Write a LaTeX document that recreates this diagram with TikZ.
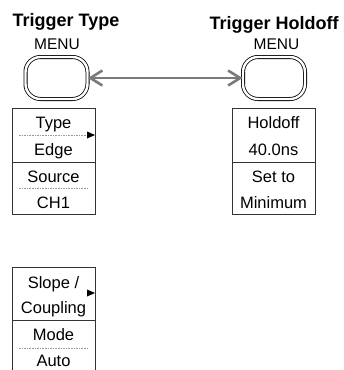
\documentclass[tikz,border=0pt]{standalone}
\usepackage{fontspec}
\setmainfont{Liberation Sans}
\usetikzlibrary{arrows.meta}
\tikzset{
  menubtn/.style={draw=black, double, double distance=2.4pt, line width=0.8pt, rectangle, rounded corners=15pt, minimum width=62pt, minimum height=42pt, inner sep=0pt},
  menutxt/.style={anchor=base, inner sep=0pt, font=\fontsize{16.5}{20}\selectfont},
  titletxt/.style={anchor=base, inner sep=0pt, font=\fontsize{18}{22}\selectfont\bfseries},
  keytxt/.style={anchor=base, inner sep=0pt, font=\fontsize{15.5}{18}\selectfont},
  softline/.style={black!40, dash pattern=on 1.6pt off 1pt, line width=0.5pt},
  boxline/.style={line width=0.9pt, black!80},
}
\begin{document}
\begin{tikzpicture}[x=1pt,y=-1pt]
			\useasboundingbox (0,0) rectangle (344,370);
			%trigger type key
			\node[titletxt] (typetitle) at (66,26) {Trigger Type};
			\node[keytxt] (typemenu) at (57,49) {MENU};
			\node[menubtn] (typebtn) at (56.5,78) {};
			%trigger holdoff key
			\node[titletxt] (holdtitle) at (274,29) {Trigger Holdoff};
			\node[keytxt] (holdmenu) at (276.5,49) {MENU};
			\node[menubtn] (holdbtn) at (274,78) {};
			\draw[black!52, line width=2.6pt, {Straight Barb[length=12pt,width=15pt]}-{Straight Barb[length=12pt,width=15pt]}] (typebtn.east) -- (holdbtn.west);
			%type and source menu
			\begin{scope}[shift={(12,108)}]
				\draw[boxline] (0,0) rectangle (83,106);
				\draw[boxline] (0,54) -- (83,54);
				\draw[softline] (7,27) -- (75,27);
				\draw[softline] (7,80) -- (76,80);
				\fill (83,27) -- ++(-8,-3.5) -- ++(0,7) -- cycle;
				\node[menutxt] (type) at (41.5,20) {Type};
				\node[menutxt] (edge) at (41.5,47) {Edge};
				\node[menutxt] (source) at (41.5,74) {Source};
				\node[menutxt] (ch) at (41.5,100) {CH1};
			\end{scope}
			%holdoff menu
			\begin{scope}[shift={(232,108)}]
				\draw[boxline] (0,0) rectangle (83,106);
				\draw[boxline] (0,54) -- (83,54);
				\node[menutxt] (holdoff) at (41.5,20) {Holdoff};
				\node[menutxt] (holdval) at (41.5,47) {40.0ns};
				\node[menutxt] (setto) at (41.5,74) {Set to};
				\node[menutxt] (minimum) at (41.5,100) {Minimum};
			\end{scope}
			%slope and mode menu
			\begin{scope}[shift={(12,267)}]
				\draw[boxline] (0,103) -- (0,0) -- (83,0) -- (83,103);
				\draw[boxline] (0,53) -- (83,53);
				\draw[softline] (7,81) -- (76,81);
				\fill (83,26) -- ++(-8,-3.5) -- ++(0,7) -- cycle;
				\node[menutxt] (slope) at (41.5,21) {Slope /};
				\node[menutxt] (coupling) at (41.5,46) {Coupling};
				\node[menutxt] (mode) at (41.5,73) {Mode};
				\node[menutxt] (auto) at (41.5,99) {Auto};
			\end{scope}
		\end{tikzpicture}
\end{document}
